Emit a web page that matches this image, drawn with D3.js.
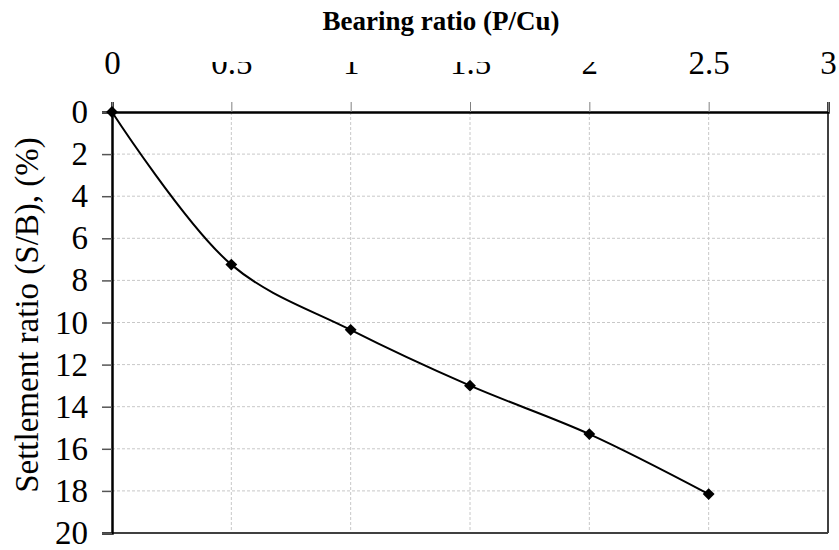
<!DOCTYPE html>
<html>
<head>
<meta charset="utf-8">
<script src="https://cdn.jsdelivr.net/npm/d3@7"></script>
<style>
  html, body { margin: 0; padding: 0; background: #fff; }
  svg { display: block; }
  svg text { font-family: "Liberation Serif", "Times New Roman", "DejaVu Serif", serif; fill: #000; }
</style>
</head>
<body>
<svg id="chart" width="839" height="550"></svg>
<script>
// ---- data ----
const bearingRatio = [0, 0.5, 1, 1.5, 2, 2.5];
const settlementRatio = [0, 7.25, 10.35, 13.0, 15.3, 18.15];
const xTicks = [0, 0.5, 1, 1.5, 2, 2.5, 3];
const yTicks = [0, 2, 4, 6, 8, 10, 12, 14, 16, 18, 20];
const xTitle = "Bearing ratio (P/Cu)";
const yTitle = "Settlement ratio (S/B), (%)";

// ---- layout ----
const W = 839, H = 550;
const L = 112, R = 828, T = 112, B = 533;
const FONT = '"Liberation Serif", "Times New Roman", serif';
const svg = d3.select("#chart");

const x = d3.scaleLinear().domain([0, 3]).range([L, R]);
const y = d3.scaleLinear().domain([0, 20]).range([T, B]);

// grid
const grid = svg.append("g");
grid.selectAll("line.v").data(xTicks.filter(v => v > 0 && v < 3)).join("line")
  .attr("x1", d => x(d)).attr("x2", d => x(d)).attr("y1", T).attr("y2", B)
  .attr("stroke", "#c8c8c8").attr("stroke-width", 1).attr("stroke-dasharray", "3,2");
grid.selectAll("line.h").data(yTicks.filter(v => v > 0 && v < 20)).join("line")
  .attr("x1", L).attr("x2", R).attr("y1", d => y(d)).attr("y2", d => y(d))
  .attr("stroke", "#c8c8c8").attr("stroke-width", 1).attr("stroke-dasharray", "3,2");

// plot border (right, bottom)
svg.append("line").attr("x1", R).attr("x2", R).attr("y1", T).attr("y2", B)
  .attr("stroke", "#404040").attr("stroke-width", 2);
svg.append("line").attr("x1", L).attr("x2", R).attr("y1", B).attr("y2", B)
  .attr("stroke", "#404040").attr("stroke-width", 2);

// clip to mimic the cut-off top tick labels
const defs = svg.append("defs");
const cp = defs.append("clipPath").attr("id", "topclip").attr("clipPathUnits", "userSpaceOnUse");
cp.append("rect").attr("x", 0).attr("y", 0).attr("width", 185).attr("height", H);
cp.append("rect").attr("x", 645).attr("y", 0).attr("width", W - 645).attr("height", H);
cp.append("rect").attr("x", 0).attr("y", 62).attr("width", W).attr("height", H - 62);

// top axis
const xAxis = d3.axisTop(x).tickValues(xTicks).tickSize(10).tickPadding(28)
  .tickFormat(d => String(d));
const wrapX = svg.append("g").attr("clip-path", "url(#topclip)");
const gx = wrapX.append("g").attr("transform", `translate(0,${T})`).call(xAxis)
  .attr("font-family", FONT).attr("font-size", 33);
gx.select(".domain").attr("stroke", "#000").attr("stroke-width", 2.5);
gx.selectAll(".tick line").attr("stroke", "#808080").attr("stroke-width", 1);
gx.selectAll(".tick text").attr("fill", "#000").attr("dy", 0);

// left axis
const yAxis = d3.axisLeft(y).tickValues(yTicks).tickSize(10).tickPadding(14)
  .tickFormat(d => String(d));
const gy = svg.append("g").attr("transform", `translate(${L},0)`).call(yAxis)
  .attr("font-family", FONT).attr("font-size", 33);
gy.select(".domain").attr("stroke", "#000").attr("stroke-width", 2.5);
gy.selectAll(".tick line").attr("stroke", "#555").attr("stroke-width", 1.5);
gy.selectAll(".tick text").attr("fill", "#000");

// titles
svg.append("text").attr("x", 441).attr("y", 30).attr("text-anchor", "middle")
  .attr("font-family", FONT).attr("font-size", 27).attr("font-weight", "bold").text(xTitle);
svg.append("text").attr("transform", `translate(38,315) rotate(-90)`)
  .attr("text-anchor", "middle").attr("font-family", FONT).attr("font-size", 33).text(yTitle);

// data line
const pts = bearingRatio.map((v, i) => [v, settlementRatio[i]]);
const line = d3.line().x(d => x(d[0])).y(d => y(d[1])).curve(d3.curveCatmullRom.alpha(0.5));
svg.append("path").datum(pts).attr("d", line)
  .attr("fill", "none").attr("stroke", "#000").attr("stroke-width", 2);

// markers
const sym = d3.symbol().type(d3.symbolSquare).size(70);
svg.selectAll("path.m").data(pts).join("path").attr("class", "m")
  .attr("d", sym)
  .attr("transform", d => `translate(${x(d[0])},${y(d[1])}) rotate(45)`)
  .attr("fill", "#000");
</script>
</body>
</html>
